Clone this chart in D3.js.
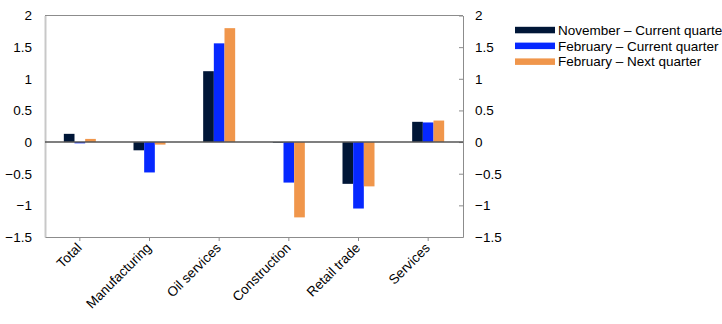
<!DOCTYPE html>
<html>
<head>
<meta charset="utf-8">
<script src="https://cdn.jsdelivr.net/npm/d3@7"></script>
<style>
  body { margin: 0; background: #fff; }
  svg { display: block; font-family: "Liberation Sans", Arial, sans-serif; }
</style>
</head>
<body>
<svg id="chart" width="722" height="324"></svg>
<script>
// Categories and series
const categories = ['Total', 'Manufacturing', 'Oil services', 'Construction', 'Retail trade', 'Services'];
const seriesNames = ['November \u2013 Current quarter', 'February \u2013 Current quarter', 'February \u2013 Next quarter'];
const novemberCurrent = [0.13, -0.13, 1.12, -0.01, -0.66, 0.32];
const februaryCurrent = [-0.02, -0.48, 1.56, -0.64, -1.05, 0.31];
const februaryNext = [0.05, -0.04, 1.8, -1.19, -0.7, 0.34];
const seriesColors = ['#001637', '#0628ff', '#f0964b'];
const yTicks = [-1.5, -1, -0.5, 0, 0.5, 1, 1.5, 2];

const seriesValues = [novemberCurrent, februaryCurrent, februaryNext];

const svg = d3.select('#chart');
const plotLeft = 45;
const plotRight = 463;
const plotTop = 15.5;
const plotBottom = 237;
const fontSize = 13.5;
const fontFamily = '"Liberation Sans", Arial, sans-serif';

const x0 = d3.scaleBand().domain(categories).range([plotLeft, plotRight]);
const bw = x0.bandwidth();
const x1 = d3.scaleBand().domain(d3.range(3)).range([bw / 2 - 16, bw / 2 + 16]);
const y = d3.scaleLinear().domain([-1.5, 2]).range([plotBottom, plotTop]);
const fmt = d => d3.format('')(d).replace('-', '\u2212');

// Frame top
svg.append('line')
  .attr('x1', plotLeft).attr('x2', plotRight).attr('y1', plotTop).attr('y2', plotTop)
  .attr('stroke', '#8c8c8c').attr('stroke-width', 1);

// Bars
const groups = svg.append('g').selectAll('g')
  .data(categories)
  .join('g')
  .attr('transform', d => `translate(${x0(d)},0)`);

groups.selectAll('rect')
  .data((d, i) => seriesValues.map((s, k) => ({ k, v: s[i] })))
  .join('rect')
  .attr('x', d => x1(d.k))
  .attr('width', x1.bandwidth())
  .attr('y', d => y(Math.max(0, d.v)))
  .attr('height', d => Math.abs(y(d.v) - y(0)))
  .attr('fill', d => seriesColors[d.k]);

// Left axis
const leftAxis = svg.append('g')
  .attr('transform', `translate(${plotLeft},0)`)
  .call(d3.axisLeft(y).tickValues(yTicks).tickSize(0).tickPadding(13).tickFormat(fmt));
leftAxis.select('.domain').attr('stroke', '#c8c8c8').attr('stroke-width', 2);
leftAxis.selectAll('text').attr('font-size', fontSize).attr('fill', '#000')
  .attr('font-family', fontFamily);

// Right axis
const rightAxis = svg.append('g')
  .attr('transform', `translate(${plotRight},0)`)
  .call(d3.axisRight(y).tickValues(yTicks).tickSizeInner(-4).tickSizeOuter(0).tickPadding(12).tickFormat(fmt));
rightAxis.select('.domain').attr('stroke', '#8c8c8c');
rightAxis.selectAll('line').attr('stroke', '#8c8c8c');
rightAxis.selectAll('text').attr('font-size', fontSize).attr('fill', '#000')
  .attr('font-family', fontFamily);

// Bottom axis, labels turned 45 degrees
const xAxis = svg.append('g')
  .attr('transform', `translate(0,${plotBottom})`)
  .call(d3.axisBottom(x0).tickSizeInner(4).tickSizeOuter(0));
xAxis.select('.domain').attr('stroke', '#8c8c8c');
xAxis.selectAll('line').attr('stroke', '#8c8c8c');
xAxis.selectAll('text')
  .attr('font-size', fontSize).attr('fill', '#000')
  .attr('font-family', fontFamily)
  .attr('text-anchor', 'end')
  .attr('x', 0).attr('y', 0)
  .attr('dy', '0.7em')
  .attr('transform', 'translate(-4,5) rotate(-45)');

// Zero line
svg.append('line')
  .attr('x1', plotLeft).attr('x2', plotRight).attr('y1', y(0)).attr('y2', y(0))
  .attr('stroke', '#555').attr('stroke-width', 1.5);

// Legend
const legend = svg.append('g').attr('transform', 'translate(515,30)');
const items = legend.selectAll('g')
  .data(seriesNames)
  .join('g')
  .attr('transform', (d, i) => `translate(0,${i * 15.8})`);
items.append('rect')
  .attr('x', 0).attr('y', -3.2).attr('width', 40).attr('height', 6.5)
  .attr('fill', (d, i) => seriesColors[i]);
items.append('text')
  .attr('x', 43).attr('y', 0).attr('dy', '0.35em')
  .attr('font-size', fontSize).attr('fill', '#000')
  .attr('font-family', fontFamily)
  .text(d => d);
</script>
</body>
</html>
